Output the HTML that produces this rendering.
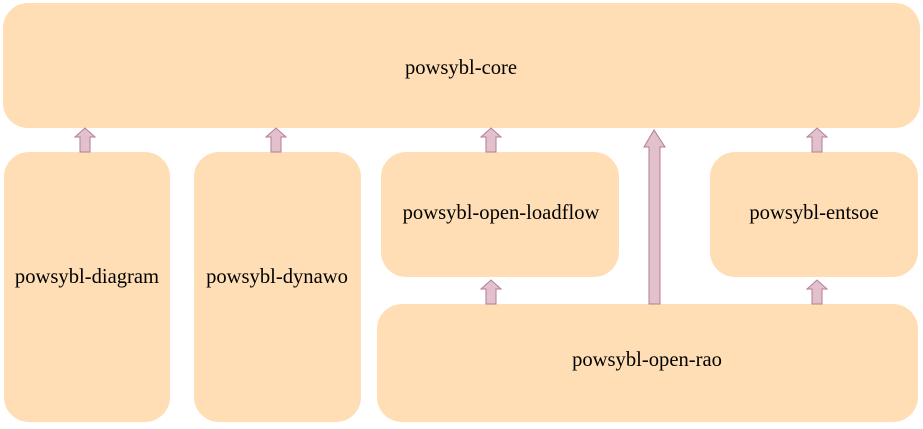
<!DOCTYPE html>
<html><head><style>
body{margin:0;background:#fff;}
svg{display:block}
text{font-family:"Liberation Serif",serif;font-size:20.6px;fill:#000;text-anchor:middle;dominant-baseline:central}
</style></head><body>
<svg width="923" height="429" viewBox="0 0 923 429">
<g fill="#ffdeb5">
<rect x="3" y="3" width="917" height="125" rx="25"/>
<rect x="4" y="152" width="166" height="270" rx="25"/>
<rect x="194" y="152" width="167" height="270" rx="25"/>
<rect x="381" y="152" width="238" height="125" rx="25"/>
<rect x="710" y="152" width="208" height="125" rx="25"/>
<rect x="377" y="304" width="541" height="118" rx="25"/>
</g>
<g fill="#e2c1cd" stroke="#b57a98" stroke-width="1">
<polygon points="80,152 80,137 75,137 85,128 95,137 90,137 90,152"/>
<polygon points="271,152 271,137 266,137 276,128 286,137 281,137 281,152"/>
<polygon points="486,152 486,137 481,137 491,128 501,137 496,137 496,152"/>
<polygon points="812,152 812,137 807,137 817,128 827,137 822,137 822,152"/>
<polygon points="486,304 486,289 481,289 491,280 501,289 496,289 496,304"/>
<polygon points="812,304 812,289 807,289 817,280 827,289 822,289 822,304"/>
<polygon points="649,304 649,147 644,147 654,130 665,147 660,147 660,304"/>
</g>
<text x="461" y="68">powsybl-core</text>
<text x="87" y="277">powsybl-diagram</text>
<text x="277" y="277">powsybl-dynawo</text>
<text x="501" y="213">powsybl-open-loadflow</text>
<text x="814" y="213">powsybl-entsoe</text>
<text x="647" y="360">powsybl-open-rao</text>
</svg>
</body></html>
